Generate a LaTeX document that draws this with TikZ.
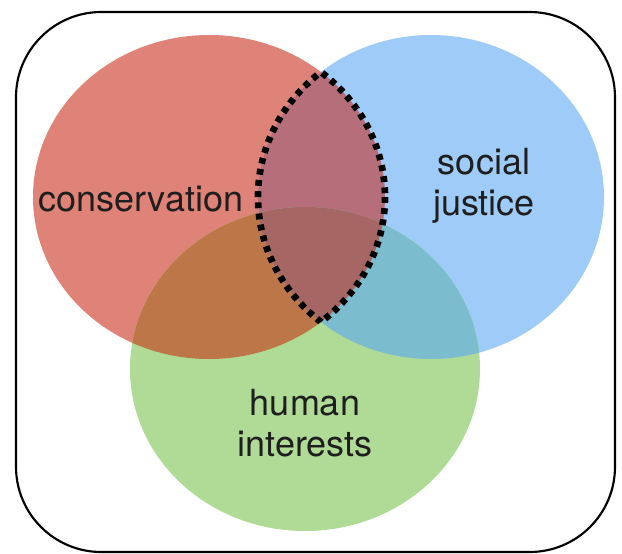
\documentclass[tikz,border=0pt]{standalone}
\usepackage{fontspec}
\setmainfont{TeX Gyre Heros}

\definecolor{consred}{RGB}{223,130,119}
\definecolor{justblue}{RGB}{158,203,247}
\definecolor{humgreen}{RGB}{176,219,150}
\definecolor{redgreen}{RGB}{188,118,72}
\definecolor{bluegreen}{RGB}{123,189,207}
\definecolor{redblue}{RGB}{181,110,122}
\definecolor{allthree}{RGB}{166,103,100}
\definecolor{labelgray}{RGB}{30,30,30}

\tikzset{every picture/.style={line width=0.75pt}}
\tikzset{vennlabel/.style={font=\fontsize{27}{31}\selectfont, text=labelgray, align=center, inner sep=0pt}}
\tikzset{lensdots/.style={line width=5pt, dash pattern=on 4.4pt off 4pt}}

\begin{document}
\begin{tikzpicture}[x=0.75pt,y=0.75pt,yscale=-1,xscale=1]
		\useasboundingbox (0,0) rectangle (622,554);

		%Shape: Ellipse [conservation]
		\fill [consred] (209,197) ellipse (176 and 162);
		%Shape: Ellipse [social justice]
		\fill [justblue] (431,197) ellipse (173 and 162);
		%Shape: Ellipse [human interests]
		\fill [humgreen] (305,369) ellipse (175 and 162);

		%Overlap: conservation and social justice
		\begin{scope}
			\clip (209,197) ellipse (176 and 162);
			\fill [redblue] (431,197) ellipse (173 and 162);
		\end{scope}
		%Overlap: conservation and human interests
		\begin{scope}
			\clip (209,197) ellipse (176 and 162);
			\fill [redgreen] (305,369) ellipse (175 and 162);
		\end{scope}
		%Overlap: social justice and human interests
		\begin{scope}
			\clip (431,197) ellipse (173 and 162);
			\fill [bluegreen] (305,369) ellipse (175 and 162);
		\end{scope}
		%Overlap: all three
		\begin{scope}
			\clip (209,197) ellipse (176 and 162);
			\clip (431,197) ellipse (173 and 162);
			\fill [allthree] (305,369) ellipse (175 and 162);
		\end{scope}

		%Dotted lens round conservation and social justice
		\begin{scope}
			\clip (209,197) ellipse (176 and 162);
			\draw [lensdots] (431,197) ellipse (173 and 162);
		\end{scope}
		\begin{scope}
			\clip (431,197) ellipse (173 and 162);
			\draw [lensdots] (209,197) ellipse (176 and 162);
		\end{scope}

		%Rounded frame
		\draw [line width=1.6pt, rounded corners=64pt] (16,12) rectangle (615,552);

		% Text Node
		\node [vennlabel, anchor=base] (conservation) at (141,211) {conservation};
		% Text Node
		\node [vennlabel] (socialjustice) at (484,186) {social\\justice};
		% Text Node
		\node [vennlabel] (humaninterests) at (305,423) {human\\interests};

\end{tikzpicture}
\end{document}
